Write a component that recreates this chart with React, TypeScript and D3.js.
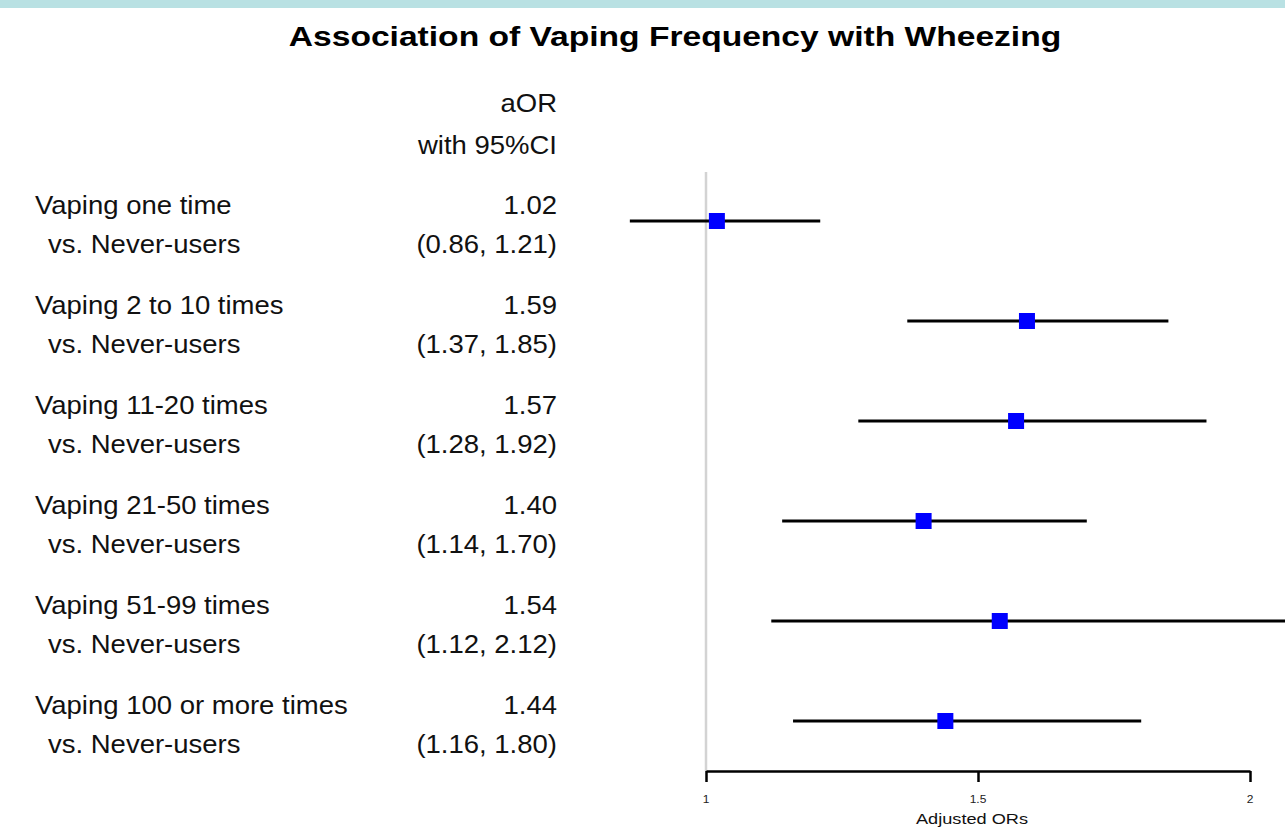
import React from 'react';
import * as d3 from 'd3';

const groups = [
  'Vaping one time',
  'Vaping 2 to 10 times',
  'Vaping 11-20 times',
  'Vaping 21-50 times',
  'Vaping 51-99 times',
  'Vaping 100 or more times',
];
const estimates = [1.02, 1.59, 1.57, 1.4, 1.54, 1.44];
const lowerCI = [0.86, 1.37, 1.28, 1.14, 1.12, 1.16];
const upperCI = [1.21, 1.85, 1.92, 1.7, 2.12, 1.8];
const ticks = [1, 1.5, 2];

const App = () => {
  const svgRef = React.useRef<SVGSVGElement>(null);

  React.useEffect(() => {
    const width = 1285;
    const svg = d3.select(svgRef.current);
    svg.selectAll('*').remove();

    const font = 'Arial, "Liberation Sans", sans-serif';
    // the original text is a bit wider than Arial, so stretch it sideways
    const label = (parent: any, px: number, py: number, txt: string, anchor = 'start', size = 25, sx = 1.1) =>
      parent.append('text')
        .attr('transform', `translate(${px},${py}) scale(${sx},1)`)
        .attr('text-anchor', anchor)
        .style('font-family', font)
        .style('font-size', `${size}px`)
        .attr('fill', '#111')
        .text(txt);

    svg.append('rect')
      .attr('x', 0).attr('y', 0)
      .attr('width', width).attr('height', 8)
      .attr('fill', '#b9e1e3');

    label(svg, 675, 46, 'Association of Vaping Frequency with Wheezing', 'middle', 28, 1.2)
      .style('font-weight', 'bold')
      .attr('fill', '#000');

    const x = d3.scaleLinear().domain([1, 2]).range([706, 1250]);
    const y = d3.scaleBand<number>()
      .domain(d3.range(groups.length))
      .range([171, 771]);

    // header
    label(svg, 557, 112, 'aOR', 'end');
    label(svg, 557, 154, 'with 95%CI', 'end');

    // reference line at 1
    svg.append('line')
      .attr('x1', x(1)).attr('x2', x(1))
      .attr('y1', 172).attr('y2', 771)
      .attr('stroke', '#d3d3d3')
      .attr('stroke-width', 2.5);

    groups.forEach((g, i) => {
      const cy = y(i)! + y.bandwidth() / 2;
      const row = svg.append('g').attr('transform', `translate(0,${cy})`);
      label(row, 35, -7, g);
      label(row, 48, 32, 'vs. Never-users');
      label(row, 557, -7, estimates[i].toFixed(2), 'end');
      label(row, 557, 32, `(${lowerCI[i].toFixed(2)}, ${upperCI[i].toFixed(2)})`, 'end');

      row.append('line')
        .attr('x1', x(lowerCI[i]))
        .attr('x2', x(upperCI[i]))
        .attr('y1', 0).attr('y2', 0)
        .attr('stroke', 'black')
        .attr('stroke-width', 3);

      row.append('rect')
        .attr('x', x(estimates[i]) - 8)
        .attr('y', -8)
        .attr('width', 16).attr('height', 16)
        .attr('fill', '#0000ff');
    });

    // axis
    const axis = svg.append('g')
      .attr('transform', 'translate(0,771)')
      .call(d3.axisBottom(x).tickValues(ticks).tickFormat(d3.format('')).tickSize(11).tickSizeOuter(0));
    axis.select('.domain').attr('stroke', 'black').attr('stroke-width', 2.5);
    axis.selectAll('.tick line').attr('stroke', 'black').attr('stroke-width', 2.5);
    axis.selectAll('.tick text').remove();
    ticks.forEach(t => label(axis, x(t), 32, String(t), 'middle', 10, 1.2).attr('fill', '#222'));

    label(svg, x(1.5) - 6, 824, 'Adjusted ORs', 'middle', 14, 1.3);
  }, []);

  return (
    <>
      <style>{'body{margin:0;background:#fff}'}</style>
      <svg ref={svgRef} width={1285} height={829} style={{ display: 'block' }} />
    </>
  );
};

export default App;
